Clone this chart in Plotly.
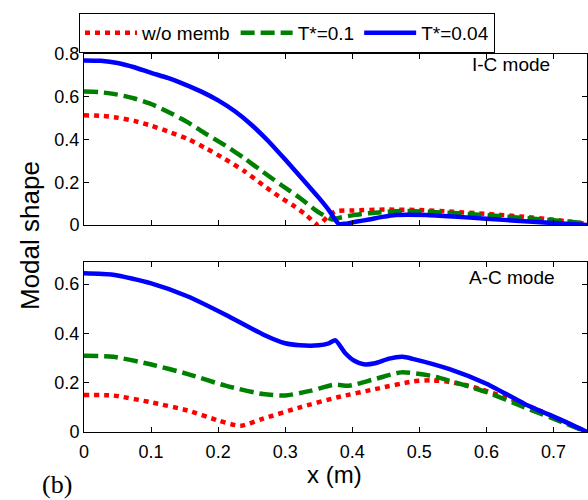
import plotly.graph_objects as go

# ---------------- data ----------------
series_names = ["w/o memb", "T*=0.1", "T*=0.04"]

# I-C mode (top panel)
ic_x_red = [0, .025, .05, .075, .1, .125, .155, .18, .21, .24, .267, .29, .311, .33, .35,
            .362, .375, .4, .45, .5, .55, .6, .65, .7, .75]
ic_y_red = [.513, .511, .502, .487, .465, .438, .402, .362, .309, .25, .186, .135, .093, .05, .0,
            .035, .064, .068, .072, .07, .062, .052, .04, .025, .005]

ic_x_green = [0, .025, .05, .075, .1, .125, .155, .18, .211, .24, .267, .295, .323, .345, .36,
              .37, .38, .4, .425, .475, .525, .575, .625, .675, .725, .75]
ic_y_green = [.624, .621, .61, .592, .566, .53, .48, .43, .371, .31, .248, .185, .124, .07, .04,
              .026, .033, .045, .055, .066, .06, .051, .04, .028, .015, .006]

ic_x_blue = [0, .025, .05, .075, .1, .125, .15, .175, .2, .225, .25, .275, .3, .325, .35, .365,
             .38, .39, .405, .425, .445, .465, .51, .55, .6, .65, .7, .75]
ic_y_blue = [.77, .768, .758, .738, .712, .688, .658, .624, .583, .532, .468, .392, .306, .218, .128, .07,
             .005, .006, .015, .026, .038, .047, .047, .04, .029, .019, .009, .0]

# A-C mode (bottom panel)
ac_x_red = [0, .0435, .099, .155, .2, .233, .267, .322, .378, .434, .49, .518, .545, .573, .629,
            .685, .75]
ac_y_red = [.15, .148, .121, .087, .047, .025, .054, .1, .141, .174, .205, .21, .203, .188, .141,
            .08, .0]

ac_x_green = [0, .0435, .099, .155, .211, .267, .30, .339, .373, .395, .434, .473, .518, .545,
              .601, .657, .713, .75]
ac_y_green = [.309, .305, .275, .235, .188, .154, .148, .168, .192, .188, .215, .242, .228, .208,
              .161, .1, .04, .0]

ac_x_blue = [0, .0435, .099, .155, .211, .267, .30, .322, .35, .365, .375, .389, .403, .417,
             .434, .455, .475, .49, .545, .601, .657, .713, .75]
ac_y_blue = [.644, .638, .604, .55, .476, .396, .36, .352, .352, .36, .372, .322, .289, .275,
             .279, .298, .305, .297, .255, .195, .114, .047, .0]

x_ticks = [0, 0.1, 0.2, 0.3, 0.4, 0.5, 0.6, 0.7]
y_ticks_top = [0, 0.2, 0.4, 0.6, 0.8]
y_ticks_bottom = [0, 0.2, 0.4, 0.6]

# ---------------- styles ----------------
colors = ["#ff0000", "#008000", "#0000ff"]
dashes = ["5px,5px", "14px,6px", "solid"]
LW = 4.5
FONT = "Liberation Sans, Arial, sans-serif"

fig = go.Figure()

top = [(ic_x_red, ic_y_red), (ic_x_green, ic_y_green), (ic_x_blue, ic_y_blue)]
bot = [(ac_x_red, ac_y_red), (ac_x_green, ac_y_green), (ac_x_blue, ac_y_blue)]

for i, (xs, ys) in enumerate(top):
    fig.add_trace(go.Scatter(x=xs, y=ys, mode="lines", name=series_names[i],
                             line=dict(color=colors[i], width=LW, dash=dashes[i],
                                       shape="spline", smoothing=0.6),
                             xaxis="x", yaxis="y", showlegend=True))
for i, (xs, ys) in enumerate(bot):
    fig.add_trace(go.Scatter(x=xs, y=ys, mode="lines", name=series_names[i],
                             line=dict(color=colors[i], width=LW, dash=dashes[i],
                                       shape="spline", smoothing=0.6),
                             xaxis="x2", yaxis="y2", showlegend=False))

W, H = 588, 500
L, R, T, B = 84, 1, 54, 68
pw, ph = W - L - R, H - T - B


def px(xpix):
    return (xpix - L) / pw


def py(ypix):
    return (H - B - ypix) / ph


axis_common = dict(showline=True, linecolor="black", linewidth=1, mirror="ticks",
                   ticks="inside", ticklen=5, tickwidth=1, tickcolor="black",
                   showgrid=False, zeroline=False,
                   tickfont=dict(family=FONT, size=18, color="black"))

fig.update_layout(
    width=W, height=H,
    margin=dict(l=L, r=R, t=T, b=B),
    paper_bgcolor="white", plot_bgcolor="white",
    font=dict(family=FONT, color="black"),
    xaxis=dict(domain=[0, 1], anchor="y", range=[0, 0.75], tickvals=x_ticks,
               showticklabels=False, **axis_common),
    yaxis=dict(domain=[py(225), 1], anchor="x", range=[0, 0.8], tickvals=y_ticks_top,
               **axis_common),
    xaxis2=dict(domain=[0, 1], anchor="y2", range=[0, 0.75], tickvals=x_ticks,
                ticklabelstandoff=3, **axis_common),
    yaxis2=dict(domain=[0, py(262)], anchor="x2", range=[0, 0.69], tickvals=y_ticks_bottom,
                **axis_common),
    legend=dict(orientation="h", x=px(79), y=py(13), xanchor="left", yanchor="top",
                bordercolor="black", borderwidth=1, bgcolor="white",
                font=dict(family=FONT, size=19, color="black"), itemwidth=52),
    showlegend=True,
)

ann = [
    dict(text="I-C mode", x=px(511), y=py(65), size=19, family=FONT, angle=0),
    dict(text="A-C mode", x=px(512), y=py(277), size=19, family=FONT, angle=0),
    dict(text="Modal shape", x=px(30), y=py(236), size=26, family=FONT, angle=-90),
    dict(text="x (m)", x=px(334), y=py(474), size=24, family=FONT, angle=0),
    dict(text="(b)", x=px(57), y=py(484), size=26,
         family="Liberation Serif, Times New Roman, serif", angle=0),
]
for a in ann:
    fig.add_annotation(text=a["text"], x=a["x"], y=a["y"], xref="paper", yref="paper",
                       xanchor="center", yanchor="middle", showarrow=False,
                       textangle=a["angle"],
                       font=dict(family=a["family"], size=a["size"], color="black"))

fig.write_html("out.html")
